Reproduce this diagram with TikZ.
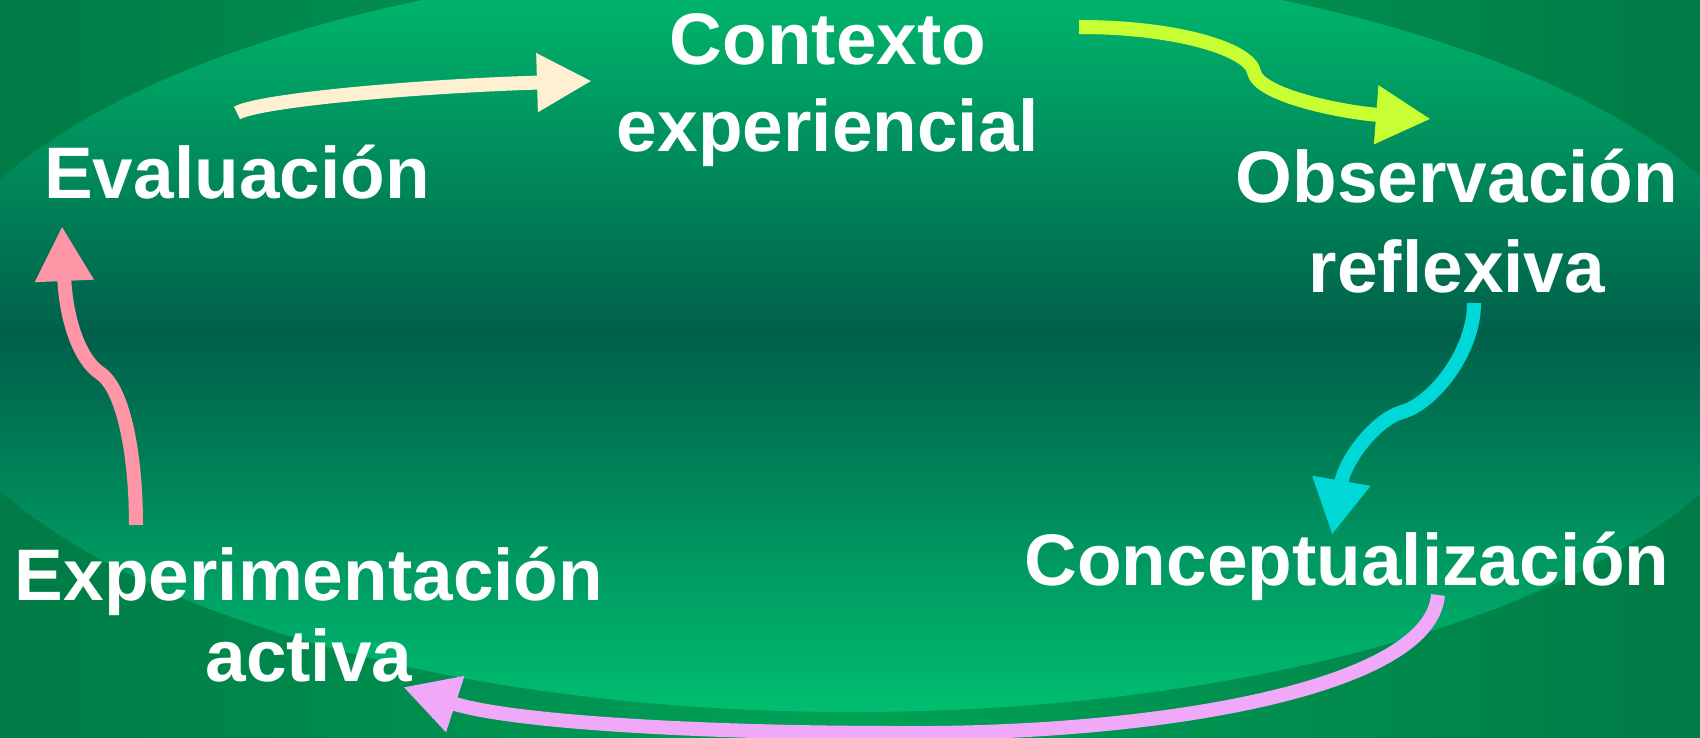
\documentclass[tikz,border=0pt]{standalone}
\usepackage{fontspec}
\setmainfont{Liberation Sans}
\usepackage{tikz}
\usetikzlibrary{arrows.meta}
\definecolor{bgEdge}{HTML}{007A46}
\definecolor{bgLight}{HTML}{00A256}
\definecolor{ovalLight}{HTML}{00BE70}
\definecolor{ovalDark}{HTML}{00604A}
\definecolor{arrEval}{HTML}{FFF0D2}
\definecolor{arrCtx}{HTML}{C8FF32}
\definecolor{arrObs}{HTML}{00D8D8}
\definecolor{arrConc}{HTML}{F0A8F8}
\definecolor{arrExp}{HTML}{FF96A8}

\begin{document}
\begin{tikzpicture}[
x=1pt, y=-1pt,
Labels/.style={text=white,font=\fontsize{73}{87}\selectfont\bfseries,inner sep=0pt,align=center,anchor=base},
Arrows/.style={-{Triangle[length=55pt, width=55pt]},line width=14pt,line join=round}
]
\useasboundingbox (0,0) rectangle (1700,738);

% background and oval
\shade[left color=bgEdge,right color=bgEdge,middle color=bgLight] (0,0) rectangle (1700,738);
\shade[top color=ovalLight,bottom color=ovalLight,middle color=ovalDark] (852,335) ellipse [x radius=935pt, y radius=377pt];

% base of the last line of each label
\coordinate (C) at (828,152);
\coordinate (E) at (237,199);
\coordinate (O) at (1457,292);
\coordinate (K) at (1347,585);
\coordinate (X) at (309,681);

\node[Labels] (ctx) at (C) {Contexto\\experiencial};
\node[Labels] (eval) at (E) {Evaluación};
\node[Labels,font=\fontsize{73}{90}\selectfont\bfseries] (obs) at (O) {Observación\\reflexiva};
\node[Labels] (conc) at (K) {Conceptualización};
\node[Labels,font=\fontsize{73}{81}\selectfont\bfseries] (expa) at (X) {Experimentación\\activa};

\draw[Arrows,arrEval] ([shift={(0,-86)}]eval.base) .. controls +(23,-13) and +(-172,5) .. ([shift={(-236,-71)}]ctx.base);

\draw[Arrows,arrCtx] ([shift={(251,-125)}]ctx.base) .. controls +(100,0) and +(-4,-22) .. ++(175,45) .. controls +(4,23) and +(-91,-7) .. ([shift={(-26,-173)}]obs.base);

\draw[Arrows,arrObs] ([shift={(17,11)}]obs.base) .. controls +(0,50) and +(30,-8) .. ++(-72,109) .. controls +(-27,8) and +(13,-75) .. ([shift={(-15,-50)}]conc.base);

\draw[Arrows,arrConc] ([shift={(91,10)}]conc.base) .. controls +(-8,95) and +(250,2) .. ++(-538,138) .. controls +(-200,0) and +(107,35) .. ([shift={(94,6)}]expa.base);

\draw[Arrows,arrExp] ([shift={(-173,-156)}]expa.base) .. controls +(0,-65) and +(25,17) .. ++(-36,-152) .. controls +(-20,-13) and +(4,94) .. ([shift={(-175,27)}]eval.base);

\end{tikzpicture}
\end{document}
